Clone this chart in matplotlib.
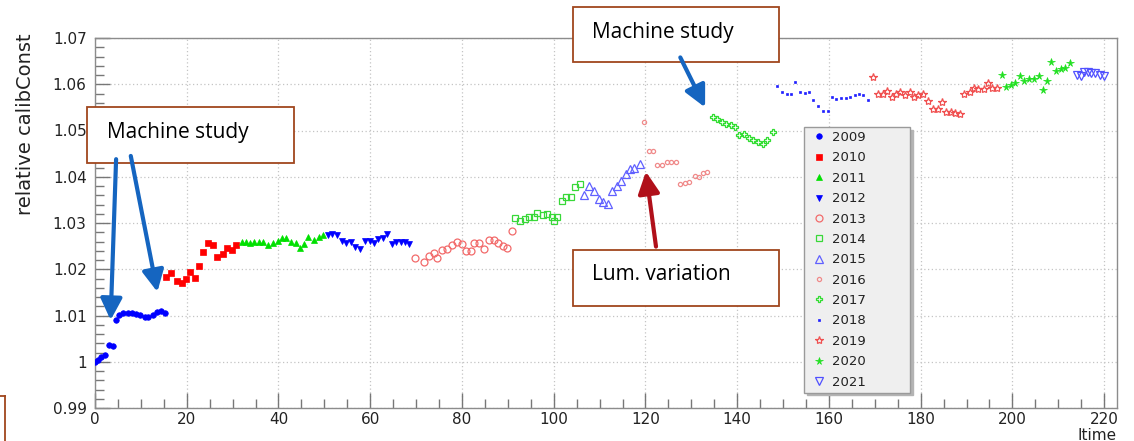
import matplotlib
matplotlib.use("Agg")
import matplotlib.pyplot as plt
from matplotlib.patches import Rectangle
from matplotlib.lines import Line2D
from matplotlib.ticker import MultipleLocator, FixedLocator, FixedFormatter

# ---------------- data: relative calibration constant vs. Itime ----------------
years = ["2009", "2010", "2011", "2012", "2013", "2014", "2015",
         "2016", "2017", "2018", "2019", "2020", "2021"]

x_2009 = [0.0, 0.6, 1.4, 2.2, 3.0, 3.9, 4.6, 5.3, 6.2, 7.1, 8.0, 8.9, 9.8, 10.8, 11.6, 12.6, 13.5, 14.3, 15.3]
y_2009 = [1.0000, 1.0004, 1.0010, 1.0014, 1.0036, 1.0035, 1.0090, 1.0101, 1.0105, 1.0105, 1.0105, 1.0103,
          1.0101, 1.0097, 1.0096, 1.0101, 1.0108, 1.0110, 1.0106]

x_2010 = [15.5, 16.5, 17.8, 18.9, 19.8, 20.7, 21.8, 22.7, 23.6, 24.6, 25.7, 26.7, 27.8, 28.7, 29.8, 30.7]
y_2010 = [1.0184, 1.0191, 1.0175, 1.0170, 1.0178, 1.0193, 1.0182, 1.0206, 1.0237, 1.0257, 1.0252, 1.0226,
          1.0232, 1.0247, 1.0242, 1.0252]

x_2011 = [32.0, 33.0, 33.8, 34.7, 35.8, 36.7, 37.8, 38.9, 39.8, 40.7, 41.6, 42.7, 43.8, 44.7, 45.6, 46.5,
          47.7, 48.8, 49.8]
y_2011 = [1.0258, 1.0258, 1.0256, 1.0258, 1.0258, 1.0258, 1.0252, 1.0257, 1.0261, 1.0267, 1.0267, 1.0258,
          1.0256, 1.0245, 1.0255, 1.0270, 1.0263, 1.0269, 1.0274]

x_2012 = [50.7, 51.7, 52.7, 53.8, 54.7, 55.7, 56.7, 57.8, 58.9, 60.0, 60.8, 61.8, 62.7, 63.6, 64.7, 65.6,
          66.7, 67.6, 68.5]
y_2012 = [1.0274, 1.0276, 1.0274, 1.0262, 1.0256, 1.0260, 1.0249, 1.0243, 1.0261, 1.0261, 1.0256, 1.0265,
          1.0267, 1.0276, 1.0255, 1.0258, 1.0258, 1.0258, 1.0255]

x_2013 = [69.8, 71.7, 72.9, 73.8, 74.6, 75.6, 76.7, 77.8, 78.9, 80.0, 80.8, 81.9, 82.6, 83.7, 84.8, 85.8,
          86.9, 87.8, 88.9, 89.9, 90.9]
y_2013 = [1.0225, 1.0216, 1.0229, 1.0236, 1.0224, 1.0242, 1.0243, 1.0252, 1.0258, 1.0255, 1.0240, 1.0240,
          1.0257, 1.0257, 1.0244, 1.0263, 1.0263, 1.0257, 1.0250, 1.0245, 1.0283]

x_2014 = [91.6, 92.7, 93.8, 94.7, 95.8, 96.4, 97.6, 98.5, 99.6, 100.0, 100.8, 101.8, 102.7, 103.7, 104.7, 105.8]
y_2014 = [1.0310, 1.0305, 1.0308, 1.0312, 1.0312, 1.0321, 1.0317, 1.0319, 1.0314, 1.0305, 1.0314, 1.0348,
          1.0356, 1.0357, 1.0378, 1.0384]

x_2015 = [106.6, 107.6, 108.7, 109.8, 110.8, 111.9, 112.6, 113.7, 114.7, 115.7, 116.7, 117.5, 118.8]
y_2015 = [1.0361, 1.0380, 1.0370, 1.0351, 1.0346, 1.0341, 1.0370, 1.0380, 1.0391, 1.0406, 1.0417, 1.0418, 1.0428]

x_2016 = [119.6, 120.7, 121.6, 122.6, 123.6, 124.6, 125.6, 126.6, 127.6, 128.7, 129.6, 130.7, 131.6, 132.6, 133.5]
y_2016 = [1.0519, 1.0456, 1.0456, 1.0425, 1.0425, 1.0431, 1.0431, 1.0431, 1.0384, 1.0386, 1.0388, 1.0402,
          1.0400, 1.0409, 1.0411]

x_2017 = [134.7, 135.6, 136.7, 137.6, 138.7, 139.6, 140.5, 141.5, 142.5, 143.5, 144.6, 145.6, 146.5, 147.7]
y_2017 = [1.0530, 1.0525, 1.0519, 1.0514, 1.0512, 1.0508, 1.0490, 1.0492, 1.0483, 1.0479, 1.0476, 1.0470,
          1.0479, 1.0496]

x_2018 = [148.6, 149.7, 150.8, 151.8, 152.7, 153.6, 154.7, 155.7, 156.6, 157.6, 158.7, 159.7, 160.6, 161.6,
          162.7, 163.7, 164.6, 165.6, 166.6, 167.5, 168.6]
y_2018 = [1.0596, 1.0583, 1.0580, 1.0580, 1.0604, 1.0584, 1.0582, 1.0583, 1.0567, 1.0553, 1.0542, 1.0542,
          1.0572, 1.0568, 1.0570, 1.0571, 1.0572, 1.0577, 1.0578, 1.0577, 1.0567]

x_2019 = [169.7, 170.8, 171.7, 172.6, 173.7, 174.7, 175.5, 176.6, 177.6, 178.6, 179.5, 180.6, 181.7, 182.7,
          183.7, 184.6, 185.6, 186.6, 187.5, 188.6, 189.5, 190.7, 191.7, 192.6, 193.7, 194.7, 195.5, 196.6]
y_2019 = [1.0615, 1.0579, 1.0580, 1.0586, 1.0572, 1.0580, 1.0583, 1.0577, 1.0583, 1.0572, 1.0577, 1.0579,
          1.0564, 1.0546, 1.0546, 1.0561, 1.0541, 1.0539, 1.0537, 1.0536, 1.0580, 1.0584, 1.0591, 1.0589,
          1.0590, 1.0603, 1.0591, 1.0591]

x_2020 = [197.7, 198.6, 199.7, 200.6, 201.7, 202.6, 203.6, 204.6, 205.7, 206.6, 207.6, 208.5, 209.5, 210.5,
          211.5, 212.6]
y_2020 = [1.0620, 1.0595, 1.0598, 1.0603, 1.0618, 1.0608, 1.0611, 1.0611, 1.0618, 1.0588, 1.0606, 1.0649,
          1.0629, 1.0632, 1.0636, 1.0647]

x_2021 = [214.1, 214.9, 215.6, 216.4, 217.2, 218.1, 219.0, 220.0]
y_2021 = [1.0620, 1.0617, 1.0626, 1.0627, 1.0625, 1.0625, 1.0621, 1.0618]

xs = [x_2009, x_2010, x_2011, x_2012, x_2013, x_2014, x_2015, x_2016, x_2017, x_2018, x_2019, x_2020, x_2021]
ys = [y_2009, y_2010, y_2011, y_2012, y_2013, y_2014, y_2015, y_2016, y_2017, y_2018, y_2019, y_2020, y_2021]

y_ticks = [0.99, 1.00, 1.01, 1.02, 1.03, 1.04, 1.05, 1.06, 1.07]
y_tick_labels = ["0.99", "1", "1.01", "1.02", "1.03", "1.04", "1.05", "1.06", "1.07"]
x_ticks = [0, 20, 40, 60, 80, 100, 120, 140, 160, 180, 200, 220]

# marker style per year: (marker, size, colour, filled)
styles = [
    ("o", 4.0, "#0000ff", True),
    ("s", 4.0, "#ff0000", True),
    ("^", 4.2, "#00e000", True),
    ("v", 4.6, "#0000ff", True),
    ("o", 5.0, "#f26a6a", False),
    ("s", 5.0, "#38d838", False),
    ("^", 5.6, "#6060ff", False),
    ("o", 3.0, "#f08a8a", False),
    ("P", 5.0, "#30dd30", False),
    ("s", 1.8, "#2020ff", True),
    ("*", 6.0, "#f05050", False),
    ("*", 5.5, "#20e020", True),
    ("v", 5.4, "#5050ff", False),
]

W, H, DPI = 1134, 441, 100
fig = plt.figure(figsize=(W / DPI, H / DPI), dpi=DPI)
fig.patch.set_facecolor("white")

ax_l, ax_r, ax_t, ax_b = 95, 1117, 38, 408
ax = fig.add_axes([ax_l / W, 1 - ax_b / H, (ax_r - ax_l) / W, (ax_b - ax_t) / H])

for yr, xv, yv, (mk, ms, col, filled) in zip(years, xs, ys, styles):
    ax.plot(xv, yv, linestyle="none", marker=mk, markersize=ms,
            markerfacecolor=col if filled else "none", markeredgecolor=col,
            markeredgewidth=0.5 if filled else 0.9, label=yr, zorder=3)

ax.set_xlim(0, 222.8)
ax.set_ylim(0.99, 1.07)

ax.xaxis.set_major_locator(FixedLocator(x_ticks))
ax.xaxis.set_minor_locator(MultipleLocator(5))
ax.yaxis.set_major_locator(FixedLocator(y_ticks))
ax.yaxis.set_major_formatter(FixedFormatter(y_tick_labels))
ax.yaxis.set_minor_locator(MultipleLocator(0.002))

ax.tick_params(which="both", direction="in", top=False, right=False, colors="#777777",
               labelcolor="#222222", labelsize=11)
ax.tick_params(which="major", length=11, width=1.0)
ax.tick_params(which="minor", length=6.5, width=1.0)
ax.tick_params(axis="y", pad=6)
ax.tick_params(axis="x", pad=3)
for lab in ax.get_xticklabels() + ax.get_yticklabels():
    lab.set_fontfamily("DejaVu Sans")

for sp in ax.spines.values():
    sp.set_color("#8c8c8c")
    sp.set_linewidth(1.0)

ax.grid(True, which="major", linestyle=(0, (1, 2)), color="#c4c4c4", linewidth=0.9, zorder=0)
ax.set_axisbelow(True)

fig.text(25.5 / W, 1 - 33 / H, "relative calibConst", rotation=90, ha="center", va="top",
         fontsize=14, family="DejaVu Sans", color="#222222")
ax.set_xlabel("Itime", loc="right", fontsize=11, family="DejaVu Sans", color="#222222")
ax.xaxis.set_label_coords(1.0, -(428 - ax_b) / (ax_b - ax_t))

# legend
leg = ax.legend(loc="upper left", bbox_to_anchor=(804 / W, 1 - 391 / H, 106 / W, 264 / H),
                bbox_transform=fig.transFigure, mode="expand", borderaxespad=0,
                prop=dict(family="DejaVu Sans", size=9.5), numpoints=1,
                handlelength=1.6, handletextpad=0.25, borderpad=0.3, labelspacing=0.56,
                fancybox=False, framealpha=1, facecolor="#efefef", edgecolor="#9a9a9a",
                shadow={"color": "#b4b4b4", "alpha": 1.0})
leg.get_frame().set_linewidth(1.0)
for t in leg.get_texts():
    t.set_color("#222222")
leg.set_zorder(5)

# annotation boxes and arrows
box_col = "#a0461e"
def note_box(x0, x1, y0, y1, label, tx, ty):
    ax.add_patch(Rectangle((x0, y0), x1 - x0, y1 - y0, fill=True, facecolor="white",
                           edgecolor=box_col, linewidth=1.3, clip_on=False, zorder=6))
    ax.text(tx, ty, label, ha="left", va="center", fontsize=15, family="Open Sans",
            color="black", clip_on=False, zorder=7)

note_box(-1.68, 43.4, 1.04304, 1.05502, "Machine study", 2.7, 1.04946)
note_box(104.2, 149.2, 1.06475, 1.07677, "Machine study", 108.3, 1.07123)
note_box(104.1, 149.2, 1.01205, 1.02416, "Lum. variation", 108.4, 1.01876)

def arrow(tip, tail, col):
    ax.annotate("", xy=tip, xytext=tail, xycoords="data", textcoords="data",
                annotation_clip=False, zorder=8,
                arrowprops=dict(arrowstyle="-|>,head_length=1.0,head_width=0.5",
                                mutation_scale=13, lw=3.0, color=col,
                                shrinkA=0, shrinkB=0))

blue_arrow = "#1565c0"
arrow((3.4, 1.0090), (4.6, 1.0438), blue_arrow)
arrow((13.6, 1.0151), (7.8, 1.0445), blue_arrow)
arrow((133.0, 1.0550), (127.6, 1.0658), blue_arrow)
arrow((120.1, 1.0411), (122.3, 1.0249), "#b0101a")

# edge of a box cut off at the lower-left border
fig.add_artist(Line2D([5 / W, 5 / W], [0, 1 - 396 / H], color=box_col, lw=1.3))
fig.add_artist(Line2D([0, 5 / W], [1 - 396 / H, 1 - 396 / H], color=box_col, lw=1.3))

fig.savefig("out.png", dpi=DPI, facecolor="white")
